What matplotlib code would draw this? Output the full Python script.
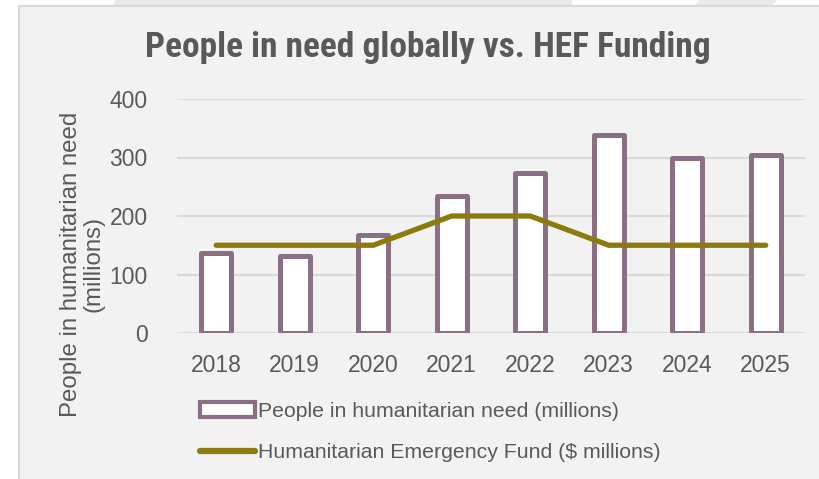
import matplotlib
matplotlib.use("Agg")
import matplotlib.pyplot as plt
from matplotlib import font_manager
from matplotlib.patches import Rectangle, Polygon, Patch
from matplotlib.lines import Line2D

# data
years = ["2018", "2019", "2020", "2021", "2022", "2023", "2024", "2025"]
people_in_need = [136, 132, 168, 235, 274, 339, 300, 305]
hef_funding = [150, 150, 150, 200, 200, 150, 150, 150]

bar_color = "#8b7085"
line_color = "#8c7a0b"
text_color = "#595959"
grid_color = "#d9d9d9"
panel_color = "#f2f2f2"

installed = {f.name for f in font_manager.fontManager.ttflist}
base_font = "Liberation Sans" if "Liberation Sans" in installed else "DejaVu Sans"
title_font = base_font
for cand in ["Liberation Sans Narrow", "Roboto Condensed", "Open Sans Condensed"]:
    if cand in installed:
        title_font = cand
        break
plt.rcParams["font.family"] = [base_font, "DejaVu Sans"]

W, H = 820, 479
fig = plt.figure(figsize=(W / 100, H / 100), dpi=100, facecolor="white")

def px(x, y):
    # pixel position (from top-left) to figure fraction
    return (x / W, 1 - y / H)

# decorative strip at the top and the grey panel
for pts in ([(115, 0), (572, 0), (572, 7), (113, 7)],
            [(700, 0), (777, 0), (770, 7), (693, 7)]):
    fig.patches.append(Polygon([px(*p) for p in pts], closed=True,
                               transform=fig.transFigure, facecolor="#ebe9e7",
                               edgecolor="none", zorder=0))
x0, y0 = px(19, 6)
fig.patches.append(Rectangle((x0, -0.05), 1.2, y0 + 0.05, transform=fig.transFigure,
                             facecolor=panel_color, edgecolor=grid_color,
                             linewidth=1.5, zorder=1))

l, t = px(177, 99)
r, b = px(805, 333)
ax = fig.add_axes([l, b, r - l, t - b])
ax.set_facecolor("none")
ax.set_zorder(2)

xs = range(len(years))
ax.bar(xs, people_in_need, width=0.38, color="white", edgecolor=bar_color,
       linewidth=3.6, joinstyle="round", zorder=3,
       label="People in humanitarian need (millions)")
ax.plot(xs, hef_funding, color=line_color, linewidth=3.8,
        solid_capstyle="round", solid_joinstyle="miter", zorder=4,
        label="Humanitarian Emergency Fund ($ millions)")

ax.set_xlim(-0.5, len(years) - 0.5)
ax.set_ylim(0, 400)
ax.set_yticks([0, 100, 200, 300, 400])
ax.set_xticks(list(xs))
ax.set_xticklabels(years)
ax.grid(axis="y", color=grid_color, linewidth=1.5, zorder=0)
ax.set_axisbelow(True)
for s in ax.spines.values():
    s.set_visible(False)
ax.tick_params(axis="both", length=0, labelsize=16.5, colors=text_color)
ax.tick_params(axis="y", pad=21)
ax.tick_params(axis="x", pad=15)

tx, ty = px(428, 47)
fig.text(tx, ty, "People in need globally vs. HEF Funding", ha="center", va="center",
         fontsize=25.5, fontweight="bold", color=text_color,
         family=[title_font, "DejaVu Sans"], fontstretch="condensed")

lx, ly = px(82, 264)
fig.text(lx, ly, "People in humanitarian need\n(millions)", rotation=90,
         ha="center", va="center", multialignment="center",
         fontsize=17.3, color=text_color, linespacing=1.0)

handles = [Patch(facecolor="white", edgecolor=bar_color, linewidth=3.0),
           Line2D([0], [0], color=line_color, linewidth=4.5, solid_capstyle="round")]
labels = ["People in humanitarian need (millions)",
          "Humanitarian Emergency Fund ($ millions)"]
gx, gy = px(200, 432)
fig.legend(handles, labels, loc="center left", bbox_to_anchor=(gx, gy),
           bbox_transform=fig.transFigure, frameon=False, fontsize=15.3,
           labelcolor=text_color, handlelength=2.6, handletextpad=0.15,
           labelspacing=1.05, borderpad=0, borderaxespad=0)

fig.savefig("out.png", dpi=100, facecolor="white")
